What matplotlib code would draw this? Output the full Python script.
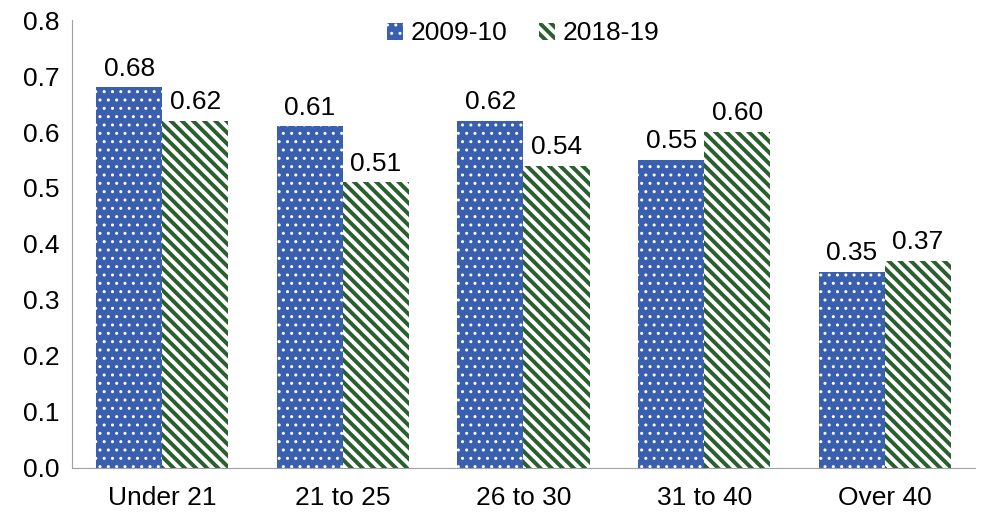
import matplotlib
matplotlib.use("Agg")
import matplotlib.pyplot as plt
import numpy as np

# Chart data.
groups = ["Under 21", "21 to 25", "26 to 30", "31 to 40", "Over 40"]
s2009 = [0.68, 0.61, 0.62, 0.55, 0.35]
s2018 = [0.62, 0.51, 0.54, 0.60, 0.37]

plt.rcParams['font.family'] = ['Liberation Sans', 'DejaVu Sans']
plt.rcParams['hatch.color'] = 'white'

fig = plt.figure(figsize=(9.84, 5.28), dpi=100)
ax = fig.add_axes([0.073, 0.114, 0.918, 0.848])

x = np.arange(len(groups))
w = 0.366

with plt.rc_context({'hatch.linewidth': 1.0}):
  b1 = ax.bar(x - w/2, s2009, w, color='#3A5FAF', hatch='..', linewidth=0, label='2009-10')
with plt.rc_context({'hatch.linewidth': 2.8}):
  b2 = ax.bar(x + w/2, s2018, w, color='#2B5F2F', hatch='\\\\\\', linewidth=0, label='2018-19')

for bars, lw in ((b1, 1.0), (b2, 2.8)):
  for b in bars:
    if hasattr(b, 'set_hatch_linewidth'):
      b.set_hatch_linewidth(lw)

for bars, vals in ((b1, s2009), (b2, s2018)):
  for b, v in zip(bars, vals):
    ax.text(b.get_x() + b.get_width()/2, v + 0.012, "%.2f" % v,
            ha='center', va='bottom', fontsize=19)

ax.set_xlim(-0.5, len(groups) - 0.5)
ax.set_ylim(0, 0.8)
ax.set_yticks(np.arange(0, 0.81, 0.1))
ax.set_yticklabels(["%.1f" % t for t in np.arange(0, 0.81, 0.1)], fontsize=19)
ax.set_xticks(x)
ax.set_xticklabels(groups, fontsize=19)
ax.tick_params(length=0)
ax.tick_params(axis='x', pad=13)
ax.tick_params(axis='y', pad=35)
for lab in ax.get_yticklabels():
  lab.set_horizontalalignment('left')

for s in ['top', 'right']:
  ax.spines[s].set_visible(False)
for s in ['left', 'bottom']:
  ax.spines[s].set_color('#A0A0A0')

leg = ax.legend(loc='upper center', bbox_to_anchor=(0.5, 1.05), ncol=2, frameon=False,
                fontsize=19, handlelength=0.6, handleheight=0.6, handletextpad=0.3,
                columnspacing=1.2)
for h, lw in zip(leg.legend_handles, (1.0, 2.8)):
  if hasattr(h, 'set_hatch_linewidth'):
    h.set_hatch_linewidth(lw)

fig.savefig("out.png", dpi=100)
